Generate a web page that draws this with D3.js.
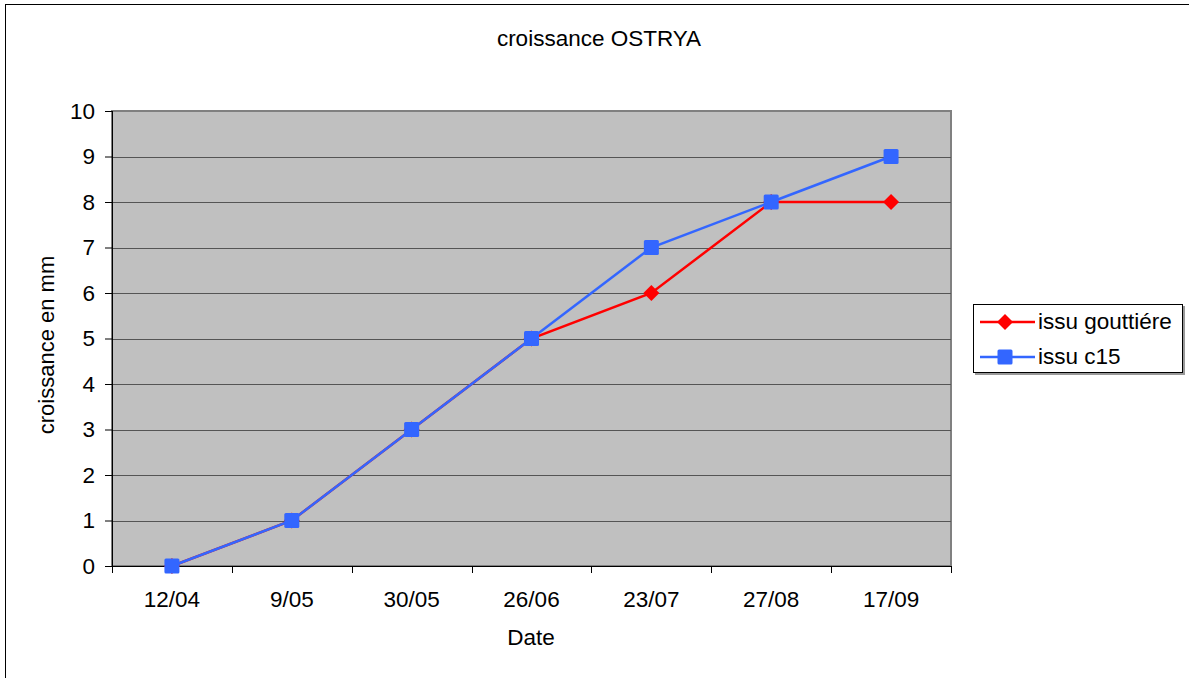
<!DOCTYPE html>
<html>
<head>
<meta charset="utf-8">
<title>croissance OSTRYA</title>
<style>
  body { margin: 0; background: #fff; }
  svg { display: block; font-family: "Liberation Sans", Arial, sans-serif; }
</style>
</head>
<body>
<svg id="chart" width="1189" height="678"></svg>
<script src="https://d3js.org/d3.v7.min.js"></script>
<script>
// data
let dates = ["12/04", "9/05", "30/05", "26/06", "23/07", "27/08", "17/09"];
let gouttiere = [0, 1, 3, 5, 6, 8, 8];
let c15 = [0, 1, 3, 5, 7, 8, 9];
let yTicks = [0, 1, 2, 3, 4, 5, 6, 7, 8, 9, 10];

let fs = 22.5;
let svg = d3.select("#chart");

// outer frame
svg.append("rect")
    .attr("x", 5.5).attr("y", 4.5)
    .attr("width", 1200).attr("height", 700)
    .attr("fill", "none").attr("stroke", "#000").attr("stroke-width", 1);

let pLeft = 112, pTop = 111, pRight = 951, pBottom = 566;

let x = d3.scaleBand().domain(dates).range([pLeft, pRight]);
let y = d3.scaleLinear().domain([0, 10]).range([pBottom, pTop]);

// plot background
svg.append("rect")
    .attr("x", pLeft).attr("y", pTop)
    .attr("width", pRight - pLeft).attr("height", pBottom - pTop)
    .attr("fill", "#c0c0c0")
    .attr("stroke", "#808080").attr("stroke-width", 2);

// gridlines
svg.append("g").selectAll("line")
    .data(yTicks.filter(d => d > 0 && d < 10))
    .enter().append("line")
    .attr("x1", pLeft).attr("x2", pRight)
    .attr("y1", d => Math.round(y(d)) + 0.5).attr("y2", d => Math.round(y(d)) + 0.5)
    .attr("stroke", "#555").attr("stroke-width", 1);

// y axis
let yAxis = svg.append("g")
    .attr("transform", "translate(" + pLeft + ",0)")
    .call(d3.axisLeft(y).tickValues(yTicks).tickSize(7).tickPadding(10));
yAxis.selectAll("text").attr("font-size", fs).attr("fill", "#000")
    .attr("font-family", "Liberation Sans, Arial, sans-serif");
yAxis.selectAll("line, path").attr("stroke", "#000");
yAxis.select(".domain").attr("d", "M0.5," + pTop + "V" + pBottom);

// x axis, ticks at band edges
let xg = svg.append("g").attr("transform", "translate(0," + pBottom + ")");
xg.append("line").attr("x1", pLeft).attr("x2", pRight + 1)
    .attr("y1", 0.5).attr("y2", 0.5).attr("stroke", "#000");
let edges = dates.map(d => x(d)).concat([pRight]);
xg.selectAll(".edge").data(edges).enter().append("line")
    .attr("x1", d => Math.round(d) + 0.5).attr("x2", d => Math.round(d) + 0.5)
    .attr("y1", 0).attr("y2", 7).attr("stroke", "#000");
xg.selectAll(".lab").data(dates).enter().append("text")
    .attr("x", d => x(d) + x.bandwidth() / 2)
    .attr("y", 41)
    .attr("text-anchor", "middle")
    .attr("font-size", fs)
    .text(d => d);

// titles
svg.append("text").attr("x", 599).attr("y", 46)
    .attr("text-anchor", "middle").attr("font-size", fs)
    .text("croissance OSTRYA");
svg.append("text").attr("x", 531).attr("y", 645)
    .attr("text-anchor", "middle").attr("font-size", fs)
    .text("Date");
svg.append("text")
    .attr("transform", "translate(54,345) rotate(-90)")
    .attr("text-anchor", "middle").attr("font-size", 22)
    .text("croissance en mm");

let cx = d => x(d) + x.bandwidth() / 2;
let line = d3.line().x(d => cx(d.date)).y(d => y(d.v));

let series = [
    { name: "issu gouttiére", values: gouttiere, color: "#ff0000", shape: "diamond" },
    { name: "issu c15", values: c15, color: "#3366ff", shape: "square" }
];

function marker(g, s, px, py) {
    if (s.shape === "square") {
        g.append("rect")
            .attr("x", px - 7.5).attr("y", py - 7.5)
            .attr("width", 15).attr("height", 15)
            .attr("rx", 1.5)
            .attr("fill", s.color);
    } else {
        g.append("path")
            .attr("d", "M" + px + "," + (py - 8) + "L" + (px + 8) + "," + py +
                "L" + px + "," + (py + 8) + "L" + (px - 8) + "," + py + "Z")
            .attr("fill", s.color);
    }
}

series.forEach(s => {
    let pts = dates.map((d, i) => ({ date: d, v: s.values[i] }));
    let g = svg.append("g");
    g.append("path").datum(pts)
        .attr("d", line)
        .attr("fill", "none")
        .attr("stroke", s.color)
        .attr("stroke-width", 2.5);
    pts.forEach(p => marker(g, s, cx(p.date), y(p.v)));
});

// legend
let lg = svg.append("g");
lg.append("rect").attr("x", 975).attr("y", 306).attr("width", 210).attr("height", 69)
    .attr("fill", "#999");
lg.append("rect").attr("x", 973.5).attr("y", 304.5).attr("width", 209).attr("height", 68)
    .attr("fill", "#fff").attr("stroke", "#000");
series.forEach((s, i) => {
    let ly = 322 + i * 35;
    lg.append("line").attr("x1", 980).attr("x2", 1035)
        .attr("y1", ly).attr("y2", ly)
        .attr("stroke", s.color).attr("stroke-width", 2.5);
    marker(lg, s, 1005, ly);
    lg.append("text").attr("x", 1038).attr("y", ly + 6.5)
        .attr("font-size", fs).text(s.name);
});
</script>
</body>
</html>
